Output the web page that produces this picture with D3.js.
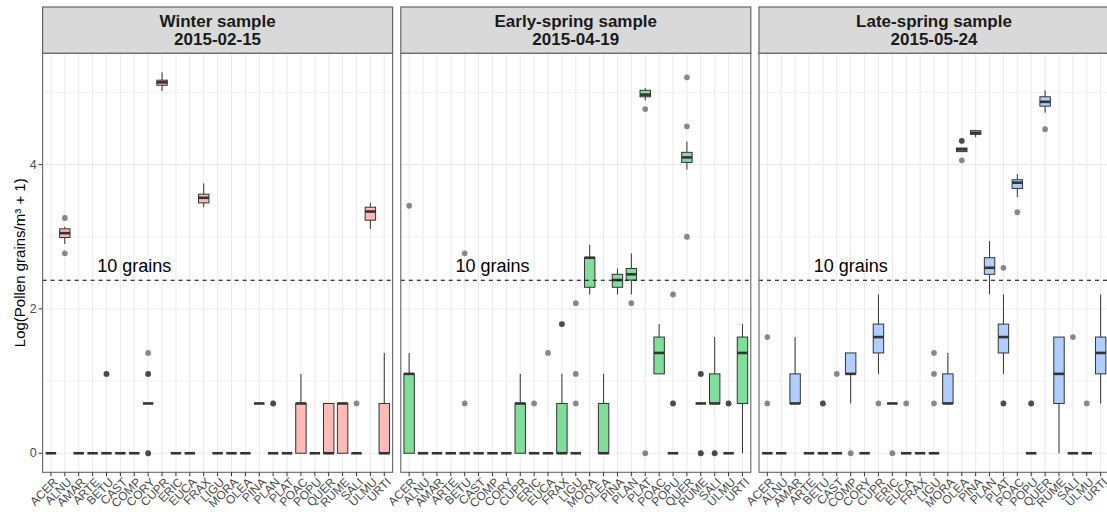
<!DOCTYPE html>
<html>
<head>
<meta charset="utf-8">
<script src="https://cdn.jsdelivr.net/npm/d3@7"></script>
<style>
  body { margin: 0; background: #fff; }
  text { font-family: "Liberation Sans", Arial, sans-serif; }
</style>
</head>
<body>
<svg id="chart" width="1107" height="512"></svg>
<script>
// pollen taxa on the x axis
var categories = ["ACER","ALNU","AMAR","ARTE","BETU","CAST","COMP","CORY","CUPR","ERIC","EUCA","FRAX","LIGU","MORA","OLEA","PINA","PLAN","PLAT","POAC","POPU","QUER","RUME","SALI","ULMU","URTI"]

var facetTitles = ["Winter sample", "Early-spring sample", "Late-spring sample"]
var facetDates = ["2015-02-15", "2015-04-19", "2015-05-24"]
var facetColors = ["#F8766D", "#00BA38", "#619CFF"]

// [lower whisker, q1, median, q3, upper whisker] per taxon
var winterStats = [
  [0,0,0,0,0], [2.90,2.99,3.05,3.11,3.14], [0,0,0,0,0], [0,0,0,0,0], [0,0,0,0,0],
  [0,0,0,0,0], [0,0,0,0,0], [0.69,0.69,0.69,0.69,0.69], [5.02,5.10,5.14,5.17,5.28], [0,0,0,0,0],
  [0,0,0,0,0], [3.41,3.47,3.54,3.59,3.74], [0,0,0,0,0], [0,0,0,0,0], [0,0,0,0,0],
  [0.69,0.69,0.69,0.69,0.69], [0,0,0,0,0], [0,0,0,0,0], [0,0,0.69,0.69,1.10], [0,0,0,0,0],
  [0,0,0,0.69,0.69], [0,0,0.69,0.69,0.69], [0,0,0,0,0], [3.11,3.23,3.35,3.41,3.47], [0,0,0,0.69,1.39]
]
var winterOutliers = [
  [], [3.26,2.77], [], [], [1.10,1.10],
  [], [], [0,0,1.10,1.10,1.39], [], [],
  [], [], [], [], [],
  [], [0.69,0.69], [], [], [],
  [], [], [0.69], [], []
]

var earlyStats = [
  [0,0,1.10,1.10,1.39], [0,0,0,0,0], [0,0,0,0,0], [0,0,0,0,0], [0,0,0,0,0],
  [0,0,0,0,0], [0,0,0,0,0], [0,0,0,0,0], [0,0,0.69,0.69,1.10], [0,0,0,0,0],
  [0,0,0,0,0], [0,0,0,0.69,1.10], [0,0,0,0,0], [2.20,2.30,2.71,2.71,2.89], [0,0,0,0.69,1.10],
  [2.20,2.30,2.40,2.48,2.56], [2.20,2.40,2.48,2.56,2.77], [4.89,4.94,4.97,5.03,5.06], [1.10,1.10,1.39,1.61,1.79], [0,0,0,0,0],
  [3.93,4.03,4.10,4.17,4.32], [0.69,0.69,0.69,0.69,0.69], [0.69,0.69,0.69,1.10,1.61], [0,0,0,0,0], [0,0.69,1.39,1.61,1.79]
]
var earlyOutliers = [
  [3.43], [], [], [], [0.69,2.77],
  [], [], [], [], [0.69],
  [1.39], [1.79,1.79], [0.69,1.10,2.08], [], [],
  [], [2.08], [4.77,0], [], [0.69,0.69,2.20],
  [5.21,4.53,3.00], [0,0,1.10,1.10], [0,0], [0.69,0.69], []
]

var lateStats = [
  [0,0,0,0,0], [0,0,0,0,0], [0.69,0.69,0.69,1.10,1.61], [0,0,0,0,0], [0,0,0,0,0],
  [0,0,0,0,0], [0.69,1.10,1.10,1.39,1.39], [0,0,0,0,0], [1.10,1.39,1.61,1.79,2.20], [0.69,0.69,0.69,0.69,0.69],
  [0,0,0,0,0], [0,0,0,0,0], [0,0,0,0,0], [0.69,0.69,0.69,1.10,1.39], [4.18,4.18,4.21,4.23,4.23],
  [4.38,4.42,4.44,4.47,4.48], [2.20,2.48,2.57,2.71,2.94], [1.10,1.39,1.61,1.79,2.20], [3.55,3.67,3.75,3.79,3.87], [0,0,0,0,0],
  [4.72,4.81,4.87,4.94,5.03], [0,0.69,1.10,1.61,1.61], [0,0,0,0,0], [0,0,0,0,0], [0.69,1.10,1.39,1.61,2.20]
]
var lateOutliers = [
  [0.69,1.61], [], [], [], [0.69,0.69],
  [1.10], [0], [], [0.69], [0],
  [0.69], [], [0.69,1.10,1.39], [], [4.33,4.33,4.06],
  [], [], [0.69,0.69,2.57], [3.34], [0.69,0.69],
  [4.49], [], [1.61], [0.69], []
]

var yTicks = [0, 2, 4]
var yMinorTicks = [1, 3, 5]
var threshold = 2.398   // log(10 + 1)
var thresholdLabel = "10 grains"
var thresholdLabelAt = ["COMP", 2.6]

var allStats = [winterStats, earlyStats, lateStats]
var allOutliers = [winterOutliers, earlyOutliers, lateOutliers]

var panelW = 350, panelGap = 8.2, left0 = 42.6
var plotTop = 53.2, plotBottom = 472.3, stripTop = 7

var svg = d3.select('#chart')

var y = d3.scaleLinear().domain([-0.264, 5.544]).range([plotBottom, plotTop])

// y axis title
svg.append('text')
  .attr('transform', 'translate(19,' + ((plotTop + plotBottom) / 2) + ') rotate(-90)')
  .attr('text-anchor', 'middle')
  .attr('dominant-baseline', 'central')
  .style('font-size', '15px')
  .attr('fill', '#000')
  .text('Log(Pollen grains/m³ + 1)')

// y tick labels + ticks, left panel only
yTicks.forEach(function(t) {
  svg.append('line')
    .attr('x1', left0 - 4).attr('x2', left0)
    .attr('y1', y(t)).attr('y2', y(t))
    .attr('stroke', '#333').attr('stroke-width', 1)
  svg.append('text')
    .attr('x', left0 - 6).attr('y', y(t))
    .attr('text-anchor', 'end')
    .attr('dominant-baseline', 'central')
    .style('font-size', '12.5px')
    .attr('fill', '#4D4D4D')
    .text(t)
})

facetTitles.forEach(function(title, f) {
  var left = left0 + f * (panelW + panelGap)
  var x = d3.scalePoint().domain(categories).range([left, left + panelW]).padding(0.6)
  var bw = x.step() * 0.75
  var g = svg.append('g')

  // panel background + grid
  g.append('rect')
    .attr('x', left).attr('y', plotTop)
    .attr('width', panelW).attr('height', plotBottom - plotTop)
    .attr('fill', '#fff')

  g.selectAll('.minor')
    .data(yMinorTicks)
    .join('line')
    .attr('x1', left).attr('x2', left + panelW)
    .attr('y1', function(d) { return y(d) })
    .attr('y2', function(d) { return y(d) })
    .attr('stroke', '#EBEBEB').attr('stroke-width', 0.6)

  g.selectAll('.major')
    .data(yTicks)
    .join('line')
    .attr('x1', left).attr('x2', left + panelW)
    .attr('y1', function(d) { return y(d) })
    .attr('y2', function(d) { return y(d) })
    .attr('stroke', '#EBEBEB').attr('stroke-width', 1.1)

  g.selectAll('.vgrid')
    .data(categories)
    .join('line')
    .attr('x1', function(d) { return x(d) })
    .attr('x2', function(d) { return x(d) })
    .attr('y1', plotTop).attr('y2', plotBottom)
    .attr('stroke', '#EBEBEB').attr('stroke-width', 1.1)

  var stats = allStats[f]
  var outs = allOutliers[f]

  // boxplots
  var boxes = g.selectAll('.box')
    .data(categories)
    .join('g')

  boxes.append('line')
    .attr('x1', function(d) { return x(d) })
    .attr('x2', function(d) { return x(d) })
    .attr('y1', function(d, i) { return y(stats[i][0]) })
    .attr('y2', function(d, i) { return y(stats[i][1]) })
    .attr('stroke', '#333').attr('stroke-width', 1)

  boxes.append('line')
    .attr('x1', function(d) { return x(d) })
    .attr('x2', function(d) { return x(d) })
    .attr('y1', function(d, i) { return y(stats[i][3]) })
    .attr('y2', function(d, i) { return y(stats[i][4]) })
    .attr('stroke', '#333').attr('stroke-width', 1)

  boxes.append('rect')
    .attr('x', function(d) { return x(d) - bw / 2 })
    .attr('width', bw)
    .attr('y', function(d, i) { return y(stats[i][3]) })
    .attr('height', function(d, i) { return y(stats[i][1]) - y(stats[i][3]) })
    .attr('fill', d3.interpolateRgb(facetColors[f], '#fff')(0.5))
    .attr('stroke', '#333').attr('stroke-width', 1)

  boxes.append('line')
    .attr('x1', function(d) { return x(d) - bw / 2 })
    .attr('x2', function(d) { return x(d) + bw / 2 })
    .attr('y1', function(d, i) { return y(stats[i][2]) })
    .attr('y2', function(d, i) { return y(stats[i][2]) })
    .attr('stroke', '#333').attr('stroke-width', 2.6)

  // outliers
  var pts = []
  categories.forEach(function(c, i) {
    outs[i].forEach(function(v) { pts.push({cat: c, v: v}) })
  })
  g.selectAll('.out')
    .data(pts)
    .join('circle')
    .attr('cx', function(d) { return x(d.cat) })
    .attr('cy', function(d) { return y(d.v) })
    .attr('r', 2.9)
    .attr('fill', '#000')
    .attr('fill-opacity', 0.45)

  // threshold line + label
  g.append('line')
    .attr('x1', left).attr('x2', left + panelW)
    .attr('y1', y(threshold)).attr('y2', y(threshold))
    .attr('stroke', '#000').attr('stroke-width', 1.1)
    .attr('stroke-dasharray', '4,4')

  g.append('text')
    .attr('x', x(thresholdLabelAt[0]))
    .attr('y', y(thresholdLabelAt[1]))
    .attr('text-anchor', 'middle')
    .attr('dominant-baseline', 'central')
    .style('font-size', '18px')
    .attr('fill', '#000')
    .text(thresholdLabel)

  // panel border
  g.append('rect')
    .attr('x', left).attr('y', plotTop)
    .attr('width', panelW).attr('height', plotBottom - plotTop)
    .attr('fill', 'none')
    .attr('stroke', '#666').attr('stroke-width', 1.1)

  // strip
  g.append('rect')
    .attr('x', left).attr('y', stripTop)
    .attr('width', panelW).attr('height', plotTop - stripTop)
    .attr('fill', '#D9D9D9')
    .attr('stroke', '#666').attr('stroke-width', 1.2)
  g.append('text')
    .attr('x', left + panelW / 2).attr('y', 26.8)
    .attr('text-anchor', 'middle')
    .style('font-size', '17px').style('font-weight', 'bold')
    .attr('fill', '#1A1A1A')
    .text(title)
  g.append('text')
    .attr('x', left + panelW / 2).attr('y', 44.5)
    .attr('text-anchor', 'middle')
    .style('font-size', '17px').style('font-weight', 'bold')
    .attr('fill', '#1A1A1A')
    .text(facetDates[f])

  // x ticks + rotated labels
  g.selectAll('.xtick')
    .data(categories)
    .join('line')
    .attr('x1', function(d) { return x(d) })
    .attr('x2', function(d) { return x(d) })
    .attr('y1', plotBottom).attr('y2', plotBottom + 4)
    .attr('stroke', '#333').attr('stroke-width', 1)

  g.selectAll('.xlab')
    .data(categories)
    .join('text')
    .attr('transform', function(d) { return 'translate(' + (x(d) + 1.5) + ',' + (plotBottom + 4.5) + ') rotate(-45)' })
    .attr('text-anchor', 'end')
    .attr('dy', '0.71em')
    .style('font-size', '12px')
    .attr('fill', '#4D4D4D')
    .text(function(d) { return d })
})
</script>
</body>
</html>
